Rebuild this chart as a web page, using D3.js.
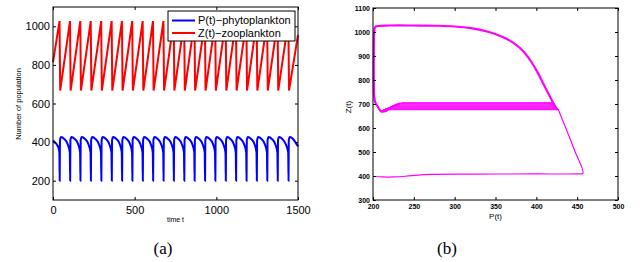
<!DOCTYPE html>
<html>
<head>
<meta charset="utf-8">
<script src="https://cdn.jsdelivr.net/npm/d3@7"></script>
<style>
  body { margin: 0; background: #fff; }
  svg { display: block; font-family: "Liberation Sans", Arial, sans-serif; }
</style>
</head>
<body>
<div id="chart"></div>
<script>
// ---- data ----
// (a) time series
var timeTicks = [0, 500, 1000, 1500];
var popTicks = [200, 400, 600, 800, 1000];

// P(t) phytoplankton: [t, value]
var phyto = [
  [0,408],[12,398],[25,385],[35,365],[39,345],
  [41,200],[42.5,410],[49,426],[69,416],[89,391],[103,345],
  [105,200],[106.5,410],[113,426],[133,416],[153,391],[166,345],
  [168,200],[169.5,410],[176,426],[196,416],[216,391],[230,345],
  [232,200],[233.5,410],[240,426],[260,416],[280,391],[294,345],
  [296,200],[297.5,410],[304,426],[324,416],[344,391],[358,345],
  [360,200],[361.5,410],[368,426],[388,416],[408,391],[421,345],
  [423,200],[424.5,410],[431,426],[451,416],[471,391],[484,345],
  [486,200],[487.5,410],[494,426],[514,416],[534,391],[548,345],
  [550,200],[551.5,410],[558,426],[578,416],[598,391],[611,345],
  [613,200],[614.5,410],[621,426],[641,416],[661,391],[675,345],
  [677,200],[678.5,410],[685,426],[705,416],[725,391],[738,345],
  [740,200],[741.5,410],[748,426],[768,416],[788,391],[802,345],
  [804,200],[805.5,410],[812,426],[832,416],[852,391],[865,345],
  [867,200],[868.5,410],[875,426],[895,416],[915,391],[929,345],
  [931,200],[932.5,410],[939,426],[959,416],[979,391],[992,345],
  [994,200],[995.5,410],[1002,426],[1022,416],[1042,391],[1056,345],
  [1058,200],[1059.5,410],[1066,426],[1086,416],[1106,391],[1119,345],
  [1121,200],[1122.5,410],[1129,426],[1149,416],[1169,391],[1183,345],
  [1185,200],[1186.5,410],[1193,426],[1213,416],[1233,391],[1246,345],
  [1248,200],[1249.5,410],[1256,426],[1276,416],[1296,391],[1310,345],
  [1312,200],[1313.5,410],[1320,426],[1340,416],[1360,391],[1374,345],
  [1376,200],[1377.5,410],[1384,426],[1404,416],[1424,391],[1440,345],
  [1442,200],[1443.5,410],[1450,426],[1470,416],[1490,391],[1500,378]
];

// Z(t) zooplankton: [t, value]
var zoo = [
  [0,814],[40,1027],[44,667],[104,1027],[108,667],[167,1027],[171,667],
  [231,1027],[235,667],[295,1027],[299,667],[359,1027],[363,667],
  [422,1027],[426,667],[485,1027],[489,667],[549,1027],[553,667],
  [612,1027],[616,667],[676,1027],[680,667],[739,1027],[743,667],
  [803,1027],[807,667],[866,1027],[870,667],[930,1027],[934,667],
  [993,1027],[997,667],[1057,1027],[1061,667],[1120,1027],[1124,667],
  [1184,1027],[1188,667],[1247,1027],[1251,667],[1311,1027],[1315,667],
  [1375,1027],[1379,667],[1441,1027],[1445,667],[1500,955]
];

var legendLabels = ["P(t)\u2212phytoplankton", "Z(t)\u2212zooplankton"];

// (b) phase plane
var pTicks = [200, 250, 300, 350, 400, 450, 500];
var zTicks = [300, 400, 500, 600, 700, 800, 900, 1000, 1100];

// first approach from the initial point
var initP = [200, 212, 225, 240, 255, 270, 320, 400, 450, 457, 447, 437, 427];
var initZ = [398, 396, 396, 399, 404, 407, 408, 408.5, 409, 411, 505, 592, 676];

// the repeated cycle
var loopP = [426, 422, 418, 413, 407, 401, 394, 384, 372, 358, 341, 320, 300, 280, 250, 220, 206, 202.5, 201.5, 201, 201, 201.5, 203, 206, 210, 216, 224, 233];
var loopZ = [675, 696, 722, 755, 795, 835, 875, 920, 955, 980, 1001, 1016, 1023, 1026, 1027, 1027, 1025, 1020, 1000, 900, 800, 730, 705, 688, 669, 671, 689, 702];

// the band of near-horizontal jumps
var bandZ = [706, 702, 699, 696, 693, 690, 687, 684, 681, 678, 676];
var bandLeftP = [235, 232, 229, 227, 225, 223, 221, 219, 217, 215, 213];
var bandRightP = [421, 422, 423, 423.5, 424, 424.5, 425, 425.5, 426, 427, 428];

// ---- drawing ----
var svg = d3.select("#chart")
  .append("svg")
    .attr("width", 642)
    .attr("height", 262);

function styleAxis(g, size, weight) {
  g.select(".domain").remove();
  g.selectAll("line").attr("stroke", "#000");
  g.selectAll("text")
    .attr("fill", "#000")
    .attr("font-size", size)
    .attr("font-weight", weight)
    .attr("font-family", "Liberation Sans, Arial, sans-serif");
}

var fmt = d3.format("d");

// panel (a)
var a = {left: 53, right: 298, top: 7, bottom: 200};
var xA = d3.scaleLinear().domain([0, 1500]).range([a.left, a.right]);
var yA = d3.scaleLinear().domain([100, 1100]).range([a.bottom, a.top]);

var gA = svg.append("g");

var lineA = d3.line()
    .x(function(d) { return xA(d[0]); })
    .y(function(d) { return yA(d[1]); });

gA.append("path")
    .datum(zoo)
    .attr("fill", "none")
    .attr("stroke", "#ff0000")
    .attr("stroke-width", 2)
    .attr("d", lineA);

gA.append("path")
    .datum(phyto)
    .attr("fill", "none")
    .attr("stroke", "#0000ff")
    .attr("stroke-width", 2)
    .attr("d", lineA.curve(d3.curveMonotoneX));

gA.append("g")
    .attr("transform", "translate(0," + a.bottom + ")")
    .call(d3.axisBottom(xA).tickValues(timeTicks).tickFormat(fmt).tickSize(-3).tickPadding(6))
    .call(styleAxis, 11, "normal");
gA.append("g")
    .attr("transform", "translate(0," + a.top + ")")
    .call(d3.axisTop(xA).tickValues(timeTicks).tickSize(-3).tickFormat(""))
    .call(styleAxis, 11, "normal");
gA.append("g")
    .attr("transform", "translate(" + a.left + ",0)")
    .call(d3.axisLeft(yA).tickValues(popTicks).tickFormat(fmt).tickSize(-3).tickPadding(3))
    .call(styleAxis, 11, "normal");
gA.append("g")
    .attr("transform", "translate(" + a.right + ",0)")
    .call(d3.axisRight(yA).tickValues(popTicks).tickSize(-3).tickFormat(""))
    .call(styleAxis, 11, "normal");

gA.append("rect")
    .attr("x", a.left).attr("y", a.top)
    .attr("width", a.right - a.left).attr("height", a.bottom - a.top)
    .attr("fill", "none").attr("stroke", "#000").attr("stroke-width", 1);

// legend
var leg = gA.append("g").attr("transform", "translate(168,11)");
leg.append("rect")
    .attr("width", 127).attr("height", 30)
    .attr("fill", "#fff").attr("stroke", "#000").attr("stroke-width", 1);
[["#0000ff", 0], ["#ff0000", 1]].forEach(function(s) {
  leg.append("line")
      .attr("x1", 4).attr("x2", 27)
      .attr("y1", 9.5 + s[1] * 12.5).attr("y2", 9.5 + s[1] * 12.5)
      .attr("stroke", s[0]).attr("stroke-width", 2);
  leg.append("text")
      .attr("x", 30).attr("y", 9.5 + s[1] * 12.5)
      .attr("dy", "0.36em")
      .attr("font-size", 11)
      .text(legendLabels[s[1]]);
});

gA.append("text")
    .attr("x", (a.left + a.right) / 2).attr("y", 222)
    .attr("text-anchor", "middle")
    .attr("font-size", 7)
    .text("time t");
gA.append("text")
    .attr("transform", "translate(21,104) rotate(-90)")
    .attr("text-anchor", "middle")
    .attr("font-size", 7.5)
    .text("Number of population");

svg.append("text")
    .attr("x", 163).attr("y", 254)
    .attr("text-anchor", "middle")
    .attr("font-family", "Liberation Serif, Times New Roman, serif")
    .attr("font-size", 17)
    .text("(a)");

// panel (b)
var b = {left: 373, right: 618, top: 8, bottom: 200};
var xB = d3.scaleLinear().domain([200, 500]).range([b.left, b.right]);
var yB = d3.scaleLinear().domain([300, 1100]).range([b.bottom, b.top]);

var gB = svg.append("g");

var lineB = d3.line()
    .x(function(d) { return xB(d[0]); })
    .y(function(d) { return yB(d[1]); })
    .curve(d3.curveCatmullRom.alpha(0.5));

var straightB = d3.line()
    .x(function(d) { return xB(d[0]); })
    .y(function(d) { return yB(d[1]); });

gB.append("path")
    .datum(initP.map(function(p, i) { return [p, initZ[i]]; }))
    .attr("fill", "none").attr("stroke", "#ff00ff").attr("stroke-width", 1.2)
    .attr("d", lineB);

bandZ.forEach(function(z, i) {
  gB.append("path")
      .datum([[210, 669], [bandLeftP[i], z], [bandRightP[i], z]])
      .attr("fill", "none").attr("stroke", "#ff00ff").attr("stroke-width", 0.9)
      .attr("d", straightB);
});

gB.append("path")
    .datum(loopP.map(function(p, i) { return [p, loopZ[i]]; }))
    .attr("fill", "none").attr("stroke", "#ff00ff").attr("stroke-width", 2.2)
    .attr("d", lineB);

gB.append("g")
    .attr("transform", "translate(0," + b.bottom + ")")
    .call(d3.axisBottom(xB).tickValues(pTicks).tickFormat(fmt).tickSize(-3).tickPadding(4))
    .call(styleAxis, 7, "bold");
gB.append("g")
    .attr("transform", "translate(0," + b.top + ")")
    .call(d3.axisTop(xB).tickValues(pTicks).tickSize(-3).tickFormat(""))
    .call(styleAxis, 7, "bold");
gB.append("g")
    .attr("transform", "translate(" + b.left + ",0)")
    .call(d3.axisLeft(yB).tickValues(zTicks).tickFormat(fmt).tickSize(-3).tickPadding(3))
    .call(styleAxis, 7, "bold");
gB.append("g")
    .attr("transform", "translate(" + b.right + ",0)")
    .call(d3.axisRight(yB).tickValues(zTicks).tickSize(-3).tickFormat(""))
    .call(styleAxis, 7, "bold");

gB.append("rect")
    .attr("x", b.left).attr("y", b.top)
    .attr("width", b.right - b.left).attr("height", b.bottom - b.top)
    .attr("fill", "none").attr("stroke", "#000").attr("stroke-width", 1);

gB.append("text")
    .attr("x", (b.left + b.right) / 2).attr("y", 219)
    .attr("text-anchor", "middle")
    .attr("font-size", 8)
    .text("P(t)");
gB.append("text")
    .attr("transform", "translate(351,107) rotate(-90)")
    .attr("text-anchor", "middle")
    .attr("font-size", 8)
    .text("Z(t)");

svg.append("text")
    .attr("x", 447).attr("y", 254)
    .attr("text-anchor", "middle")
    .attr("font-family", "Liberation Serif, Times New Roman, serif")
    .attr("font-size", 17)
    .text("(b)");
</script>
</body>
</html>
